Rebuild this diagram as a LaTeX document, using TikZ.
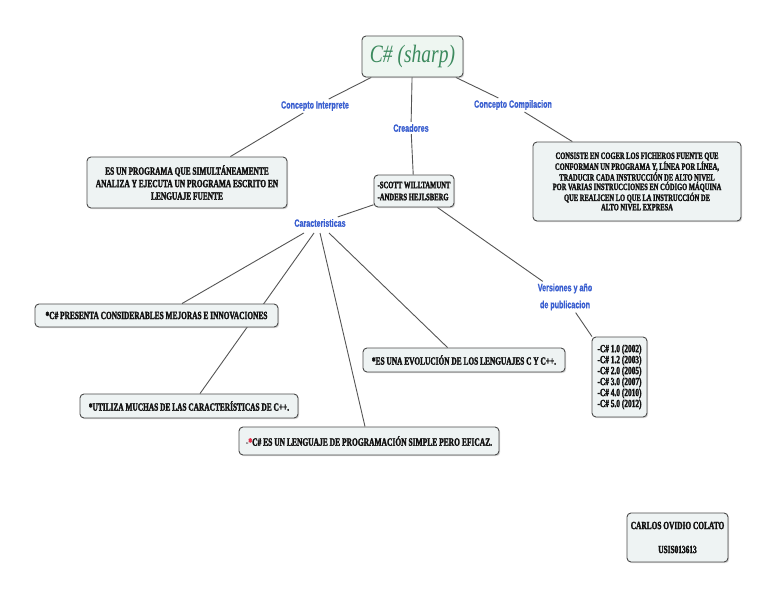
\documentclass[tikz,border=0pt]{standalone}
\usepackage{fontspec}
\usetikzlibrary{shadows,backgrounds,calc}
\newfontfamily\boxfont[FakeStretch=0.67,FakeBold=2]{Liberation Serif Bold}
\newfontfamily\labfont[FakeStretch=0.68,FakeBold=0.8]{Liberation Sans Bold}
\newfontfamily\titlefont[FakeStretch=0.78]{Liberation Serif Italic}
\definecolor{boxfill}{HTML}{EEF3F3}
\definecolor{titlefill}{HTML}{EEF6F1}
\definecolor{titlegreen}{HTML}{3C8A5E}
\definecolor{edgegray}{HTML}{4A4A4A}
\definecolor{conngray}{HTML}{555555}
\definecolor{labblue}{HTML}{3A5FD0}
\definecolor{txt}{HTML}{111111}
\definecolor{starred}{HTML}{E0304A}
\begin{document}
\begin{tikzpicture}[x=1pt,y=-1pt,
  box/.style={draw=edgegray, line width=0.9pt, rounded corners=4pt, fill=boxfill,
    drop shadow={shadow xshift=1.2pt, shadow yshift=-1.2pt, opacity=0.3},
    text=txt, inner sep=2pt, align=center},
  lab/.style={text=labblue, font=\labfont\fontsize{10.5}{12}\selectfont, inner sep=2pt, align=center},
  conn/.style={draw=conngray, line width=0.9pt}]
\useasboundingbox (0,0) rectangle (768,594);

% title
\node[box, fill=titlefill, text=titlegreen, minimum width=101pt, minimum height=41pt,
  font=\titlefont\fontsize{25}{27}\selectfont] (title) at (412.5,56.5) {C\# (sharp)};

% labels
\node[lab] (ci) at (315,106) {Concepto Interprete};
\node[lab] (cr) at (411,128) {Creadores};
\node[lab] (cc) at (513,105) {Concepto Compilacion};
\node[lab] (car) at (320,223) {Caracteristicas};
\node[lab, font=\labfont\fontsize{10.5}{17}\selectfont] (ver) at (565,297) {Versiones y año\\de publicacion};

% boxes
\node[box, minimum width=200pt, minimum height=51pt,
  font=\boxfont\fontsize{11}{12.5}\selectfont] (interp) at (187,182.5)
  {ES UN PROGRAMA QUE SIMULTÁNEAMENTE\\ANALIZA Y EJECUTA UN PROGRAMA ESCRITO EN\\LENGUAJE FUENTE};

\node[box, minimum width=80pt, minimum height=32pt, align=left,
  font=\boxfont\fontsize{9.9}{12}\selectfont] (creat) at (414,191)
  {-SCOTT WILLTAMUNT\\-ANDERS HEJLSBERG};

\node[box, minimum width=208pt, minimum height=79pt,
  font=\boxfont\fontsize{9.7}{9.4}\selectfont] (comp) at (637,181.5)
  {CONSISTE EN COGER LOS FICHEROS FUENTE QUE\\CONFORMAN UN PROGRAMA Y, LÍNEA POR LÍNEA,\\TRADUCIR CADA INSTRUCCIÓN DE ALTO NIVEL\\POR VARIAS INSTRUCCIONES EN CÓDIGO MÁQUINA\\QUE REALICEN LO QUE LA INSTRUCCIÓN DE\\ALTO NIVEL EXPRESA};

\node[box, minimum width=243pt, minimum height=23pt,
  font=\boxfont\fontsize{11}{11}\selectfont] (pres) at (156.5,315.5)
  {*C\# PRESENTA CONSIDERABLES MEJORAS E INNOVACIONES};

\node[box, minimum width=218pt, minimum height=24pt,
  font=\boxfont\fontsize{11}{11}\selectfont] (util) at (189,406)
  {*UTILIZA MUCHAS DE LAS CARACTERÍSTICAS DE C++.};

\node[box, minimum width=260pt, minimum height=28pt,
  font=\boxfont\fontsize{11.2}{11}\selectfont] (simple) at (369,441)
  {{\color{gray}-}{\color{starred}*}C\# ES UN LENGUAJE DE PROGRAMACIÓN SIMPLE PERO EFICAZ.};

\node[box, minimum width=202pt, minimum height=24pt,
  font=\boxfont\fontsize{11}{11}\selectfont] (evol) at (464,360)
  {*ES UNA EVOLUCIÓN DE LOS LENGUAJES C Y C++.};

\node[box, minimum width=55pt, minimum height=80pt, align=left,
  font=\boxfont\fontsize{11}{9.4}\selectfont] (vers) at (619.5,377)
  {-C\# 1.0 (2002)\\-C\# 1.2 (2003)\\-C\# 2.0 (2005)\\-C\# 3.0 (2007)\\-C\# 4.0 (2010)\\-C\# 5.0 (2012)};

\node[box, minimum width=101pt, minimum height=49pt,
  font=\boxfont\fontsize{11}{11}\selectfont] (auth) at (677.5,537.5)
  {CARLOS OVIDIO COLATO\\[13pt]USIS013613};

% start points under Caracteristicas
\coordinate (c1) at (304,233);
\coordinate (c2) at (314,233);
\coordinate (c3) at (320,233);
\coordinate (c4) at (329,233);

\begin{pgfonlayer}{background}
\fill[white] (0,0) rectangle (768,594);
\draw[conn] (title) -- (ci);
\draw[conn] (ci) -- (interp);
\draw[conn] (title) -- (cr);
\draw[conn] (cr) -- (creat);
\draw[conn] (title) -- (cc);
\draw[conn] (cc) -- (comp);
\draw[conn] (creat) -- (car);
\draw[conn] (creat) -- (ver);
\draw[conn] (ver) -- (vers);
\draw[conn] (c1) -- ($(pres.north)+(25.5,0)$);
\draw[conn] (c2) -- ($(util.north)+(11,0)$);
\draw[conn] (c3) -- ($(simple.north)+(-4,0)$);
\draw[conn] (c4) -- ($(evol.north west)+(85,0)$);
\end{pgfonlayer}
\end{tikzpicture}
\end{document}
